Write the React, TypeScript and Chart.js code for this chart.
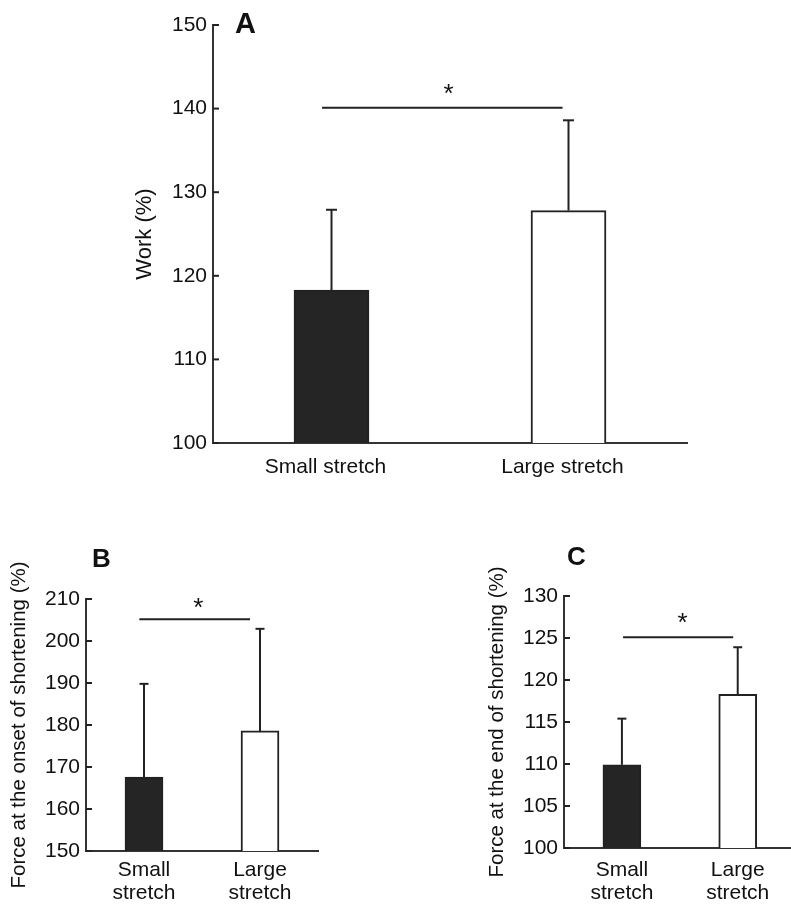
import React, { useEffect, useRef } from "react";
import { Chart, registerables } from "chart.js";

Chart.register(...registerables);

const FONT = '"Liberation Sans", Arial, Helvetica, sans-serif';
const INK = "#222222";
const AXIS = "#333333";

// ---- data ----
const categoriesA = ["Small stretch", "Large stretch"];
const categoriesBC = [["Small", "stretch"], ["Large", "stretch"]];
const barFills = ["#252525", "#ffffff"];

const workMean = [118.3, 127.8];
const workSD = [9.6, 10.8];
const workTicks = { min: 100, max: 150, step: 10 };
const workSig = { y: 140.1, from: -0.04, to: 0.975, star: 0.494 };

const onsetMean = [167.6, 178.6];
const onsetSD = [22.2, 24.3];
const onsetTicks = { min: 150, max: 210, step: 10 };
const onsetSig = { y: 205.2, from: -0.04, to: 0.914, star: 0.468 };

const endMean = [109.9, 118.3];
const endSD = [5.5, 5.6];
const endTicks = { min: 100, max: 130, step: 5 };
const endSig = { y: 125.1, from: 0.01, to: 0.961, star: 0.524 };

const overlayPlugin = {
  id: "overlay",
  afterDatasetsDraw(chart: any, _args: any, opts: any) {
    const { ctx, chartArea } = chart;
    const x = chart.scales.x;
    const y = chart.scales.y;
    ctx.save();
    ctx.strokeStyle = INK;
    ctx.lineWidth = 2;
    const line = (a: number, b: number, c: number, d: number) => {
      ctx.beginPath();
      ctx.moveTo(a, b);
      ctx.lineTo(c, d);
      ctx.stroke();
    };
    // inward ticks on y axis
    y.ticks.forEach((t: any) => {
      const py = y.getPixelForValue(t.value);
      line(chartArea.left, py, chartArea.left + 6, py);
    });
    // error bars (upper only)
    opts.means.forEach((m: number, i: number) => {
      const px = x.getPixelForValue(i);
      const p0 = y.getPixelForValue(m);
      const p1 = y.getPixelForValue(m + opts.sd[i]);
      line(px, p0, px, p1);
      line(px - opts.cap / 2, p1, px + opts.cap / 2, p1);
    });
    // significance line
    const x0 = x.getPixelForValue(0);
    const x1 = x.getPixelForValue(1);
    const sy = y.getPixelForValue(opts.sig.y);
    line(x0 + opts.sig.from * (x1 - x0), sy, x0 + opts.sig.to * (x1 - x0), sy);
    ctx.fillStyle = "#111";
    ctx.font = `26px ${FONT}`;
    ctx.textAlign = "center";
    ctx.textBaseline = "alphabetic";
    ctx.fillText("*", x0 + opts.sig.star * (x1 - x0), sy - opts.starGap);
    // panel letter
    ctx.font = `bold ${opts.labelSize}px ${FONT}`;
    ctx.textAlign = "left";
    ctx.fillText(opts.label, chartArea.left + opts.labelDx, chartArea.top + opts.labelDy);
    ctx.restore();
  },
};

function makeConfig(p: any) {
  return {
    type: "bar",
    data: {
      datasets: [
        {
          data: p.means.map((v: number, i: number) => ({ x: i, y: v })),
          backgroundColor: barFills,
          borderColor: INK,
          borderWidth: 2,
          borderSkipped: false,
          barThickness: p.barThickness,
        },
      ],
    },
    options: {
      responsive: false,
      animation: false,
      devicePixelRatio: 1,
      layout: { padding: p.padding },
      plugins: {
        legend: { display: false },
        tooltip: { enabled: false },
        overlay: {
          means: p.means,
          sd: p.sd,
          cap: p.cap,
          sig: p.sig,
          starGap: p.starGap,
          label: p.label,
          labelSize: p.labelSize,
          labelDx: p.labelDx,
          labelDy: p.labelDy,
        },
      },
      scales: {
        x: {
          type: "linear",
          min: -0.5,
          max: p.xMax,
          offset: false,
          afterBuildTicks: (s: any) => {
            s.ticks = [{ value: 0 }, { value: 1 }];
          },
          afterFit: (s: any) => {
            s.height = p.xHeight;
          },
          grid: { display: true, drawOnChartArea: false, drawTicks: false, offset: false },
          border: { display: true, color: AXIS, width: 2 },
          ticks: {
            color: "#111",
            font: { family: FONT, size: 21, lineHeight: 1.1 },
            padding: p.xPad,
            labelOffset: p.labelOffset,
            maxRotation: 0,
            autoSkip: false,
            callback: (v: number) => p.categories[v],
          },
        },
        y: {
          type: "linear",
          min: p.ticks.min,
          max: p.ticks.max,
          afterFit: (s: any) => {
            s.width = p.yWidth;
          },
          grid: { display: true, drawOnChartArea: false, drawTicks: false },
          border: { display: true, color: AXIS, width: 2 },
          ticks: {
            stepSize: p.ticks.step,
            color: "#111",
            font: { family: FONT, size: 21 },
            padding: 6,
          },
          title: {
            display: true,
            text: p.title,
            color: "#111",
            font: { family: FONT, size: p.titleSize },
            padding: { top: p.titlePad, bottom: 0 },
          },
        },
      },
    },
    plugins: [overlayPlugin],
  };
}

function Panel({ left, top, width, height, params }: any) {
  const ref = useRef<HTMLCanvasElement | null>(null);
  useEffect(() => {
    const chart = new Chart(ref.current as HTMLCanvasElement, makeConfig(params) as any);
    return () => chart.destroy();
  }, []);
  return (
    <div style={{ position: "absolute", left, top, width, height }}>
      <canvas ref={ref} width={width} height={height} style={{ width, height, display: "block" }} />
    </div>
  );
}

const paramsA = {
  means: workMean,
  sd: workSD,
  ticks: workTicks,
  sig: workSig,
  categories: categoriesA,
  title: "Work (%)",
  titleSize: 22,
  padding: { left: 125, top: 25, right: 104, bottom: 0 },
  yWidth: 88,
  xHeight: 57,
  xMax: 1.5,
  xPad: 13,
  labelOffset: -6,
  titlePad: 7,
  barThickness: 75,
  cap: 11,
  starGap: 6,
  label: "A",
  labelSize: 29,
  labelDx: 22,
  labelDy: 8,
};

const paramsB = {
  means: onsetMean,
  sd: onsetSD,
  ticks: onsetTicks,
  sig: onsetSig,
  categories: categoriesBC,
  title: "Force at the onset of shortening (%)",
  titleSize: 20.5,
  padding: { left: 0, top: 79, right: 77, bottom: 0 },
  yWidth: 86,
  xHeight: 54,
  xMax: 1.5,
  xPad: 8,
  labelOffset: 0,
  titlePad: 7,
  barThickness: 38,
  cap: 9,
  starGap: 3,
  label: "B",
  labelSize: 26,
  labelDx: 6,
  labelDy: -32,
};

const paramsC = {
  means: endMean,
  sd: endSD,
  ticks: endTicks,
  sig: endSig,
  categories: categoriesBC,
  title: "Force at the end of shortening (%)",
  titleSize: 20.5,
  padding: { left: 0, top: 76, right: 0, bottom: 0 },
  yWidth: 94,
  xHeight: 57,
  xMax: 1.46,
  xPad: 11,
  labelOffset: 0,
  titlePad: 15,
  barThickness: 38,
  cap: 9,
  starGap: 6,
  label: "C",
  labelSize: 26,
  labelDx: 3,
  labelDy: -31,
};

export default function App() {
  return (
    <div style={{ position: "absolute", left: 0, top: 0, width: 791, height: 905, background: "#fff", overflow: "hidden" }}>
      <Panel left={0} top={0} width={791} height={500} params={paramsA} />
      <Panel left={0} top={520} width={395} height={385} params={paramsB} />
      <Panel left={470} top={520} width={321} height={385} params={paramsC} />
    </div>
  );
}
